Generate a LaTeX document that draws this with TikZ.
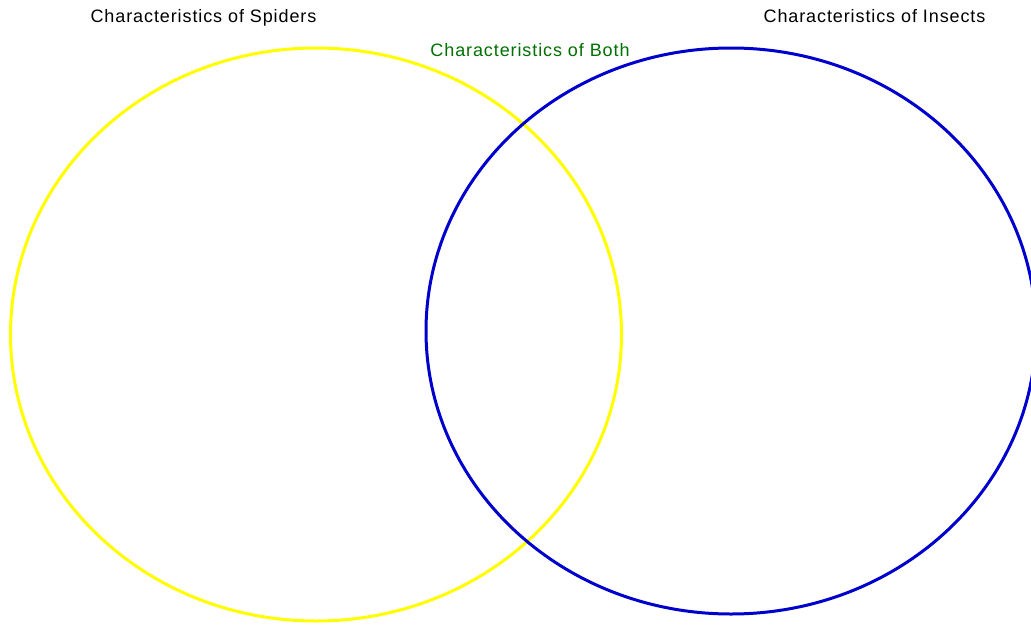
\documentclass[tikz,border=0pt]{standalone}
\usepackage{fontspec}
\setmainfont{Liberation Sans}
\usepackage{xcolor}
\usepackage{tikz}
\usetikzlibrary{shapes.geometric}
\definecolor{spiderx}{HTML}{FFFF00}
\definecolor{insectx}{HTML}{0000CC}
\definecolor{bothx}{HTML}{007000}
\newfontfamily\labelfont[LetterSpace=5]{Liberation Sans}
\tikzset{
  ring/.style={draw,ellipse,line width=3pt,inner sep=0pt},
  lbl/.style={font=\labelfont\fontsize{18}{20}\selectfont,inner sep=0pt,anchor=base}
}
\begin{document}
\begin{tikzpicture}[x=1pt,y=-1pt]
\useasboundingbox (0,0) rectangle (1031,624);
\clip (0,0) rectangle (1031,624);
\node[ring,draw=spiderx,minimum width=611pt,minimum height=573pt] (spiders) at (316,334.5) {};
\node[ring,draw=insectx,minimum width=610pt,minimum height=566pt] (insects) at (731,331) {};
\node[lbl] (tspiders) at (203.5,22.3) {Characteristics of Spiders};
\node[lbl] (tinsects) at (874.5,22.3) {Characteristics of Insects};
\node[lbl,text=bothx] (tboth) at (530,56.7) {Characteristics of Both};
\end{tikzpicture}
\end{document}
